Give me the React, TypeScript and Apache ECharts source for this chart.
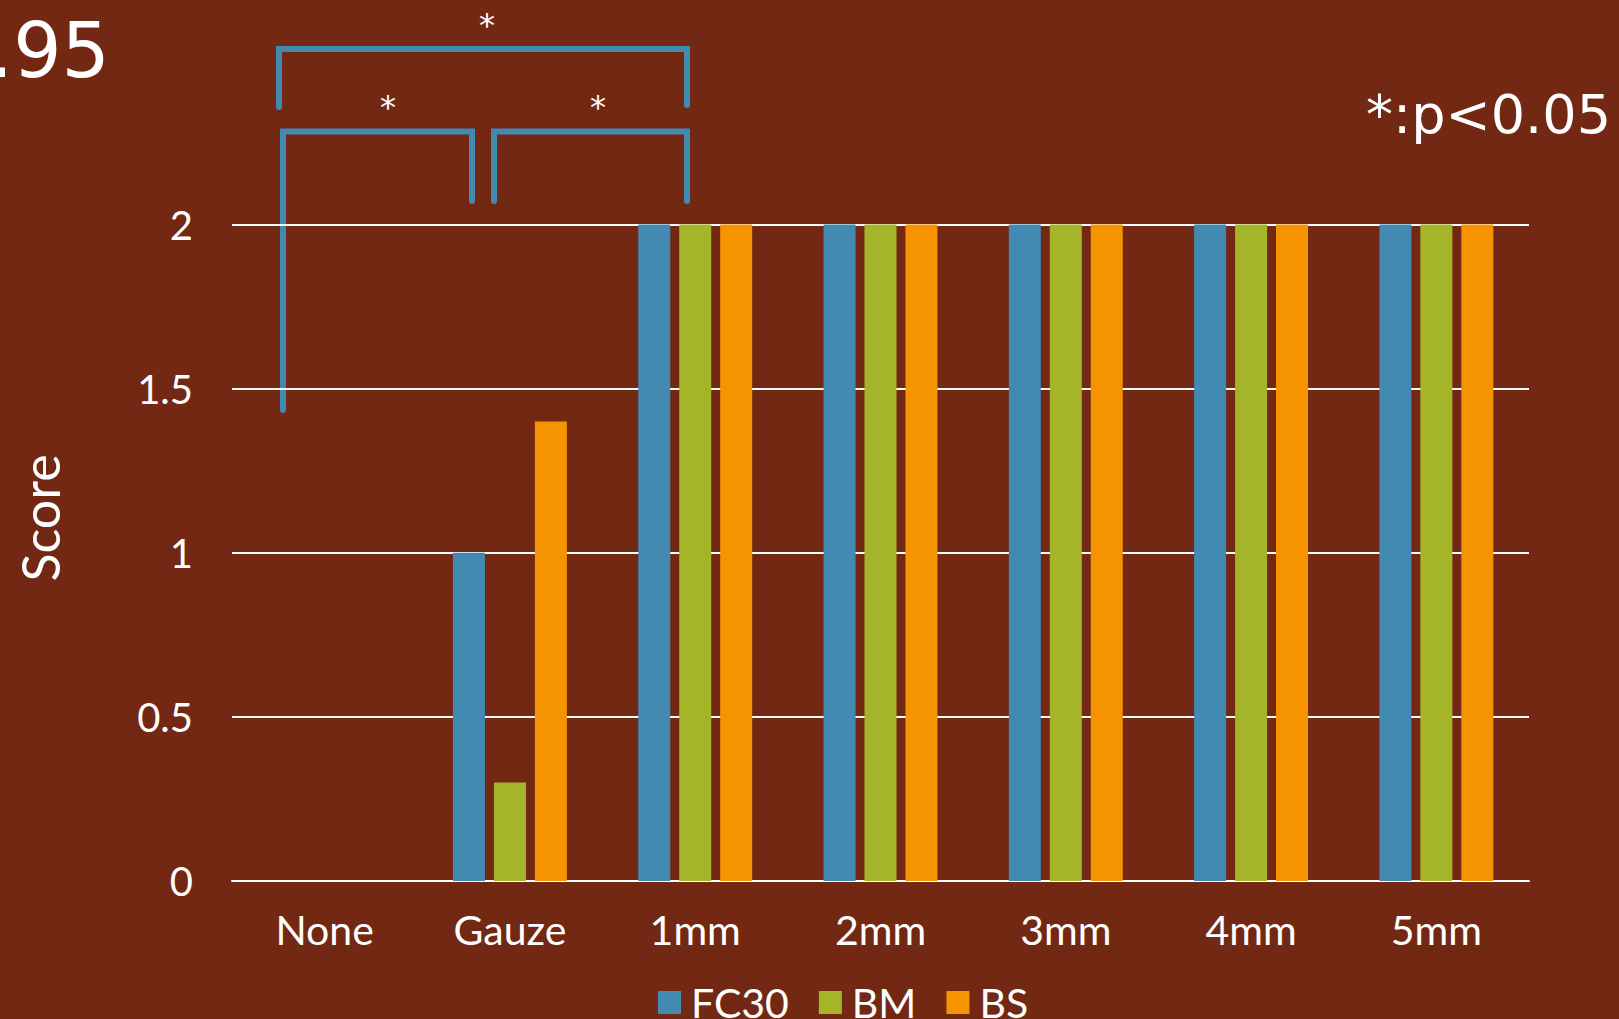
import React, { useEffect, useRef } from "react";
import * as echarts from "echarts";

const categories = ["None", "Gauze", "1mm", "2mm", "3mm", "4mm", "5mm"];
const seriesNames = ["FC30", "BM", "BS"];
const fc30 = [0, 1, 2, 2, 2, 2, 2];
const bm = [0, 0.3, 2, 2, 2, 2, 2];
const bs = [0, 1.4, 2, 2, 2, 2, 2];
const colors = ["#438AB3", "#A5B52A", "#F59300"];
const bg = "#732814";
const labelFont = "Lato, 'Noto Sans', sans-serif";

export default function App() {
  const ref = useRef<HTMLDivElement>(null);
  useEffect(() => {
    document.body.style.margin = "0";
    const chart = echarts.init(ref.current!, undefined, { renderer: "svg" });
    const bracketStyle = { stroke: colors[0], lineWidth: 6, lineCap: "round", lineJoin: "miter", fill: null };
    const star = (x: number, y: number) => ({
      type: "text",
      x,
      y,
      style: { text: "*", fill: "#ffffff", font: "32px 'DejaVu Sans'", textAlign: "center", textVerticalAlign: "middle" },
    });
    chart.setOption({
      animation: false,
      backgroundColor: bg,
      grid: { left: 232, right: 90, top: 224.5, bottom: 138 },
      legend: {
        data: seriesNames,
        left: 653,
        top: 977,
        itemWidth: 23,
        itemHeight: 23,
        itemGap: 30,
        icon: "rect",
        textStyle: { color: "#ffffff", fontSize: 41, fontFamily: labelFont, padding: [0, 0, 0, 5] },
      },
      xAxis: {
        type: "category",
        data: categories,
        axisLine: { lineStyle: { color: "#ffffff", width: 2 } },
        axisTick: { show: false },
        axisLabel: { color: "#ffffff", fontSize: 41, fontFamily: labelFont, margin: 28 },
      },
      yAxis: {
        type: "value",
        min: 0,
        max: 2,
        interval: 0.5,
        axisLine: { show: false },
        axisTick: { show: false },
        axisLabel: { color: "#ffffff", fontSize: 40, fontFamily: labelFont, margin: 39 },
        splitLine: { lineStyle: { color: "#ffffff", width: 2 } },
      },
      series: [fc30, bm, bs].map((d, i) => ({
        name: seriesNames[i],
        type: "bar",
        data: d,
        barWidth: 32,
        barGap: "28%",
        itemStyle: { color: colors[i] },
      })),
      graphic: [
        {
          type: "text",
          x: 40,
          y: 518,
          rotation: Math.PI / 2,
          style: { text: "Score", fill: "#ffffff", font: `52px ${labelFont}`, textAlign: "center", textVerticalAlign: "middle" },
        },
        {
          type: "text",
          x: -11,
          y: 50,
          style: { text: ".95", fill: "#ffffff", font: "76px 'DejaVu Sans'", textAlign: "left", textVerticalAlign: "middle" },
        },
        {
          type: "text",
          x: 1611,
          y: 114,
          style: { text: "*:p<0.05", fill: "#ffffff", font: "54px 'DejaVu Sans'", textAlign: "right", textVerticalAlign: "middle" },
        },
        { type: "polyline", shape: { points: [[279, 107], [279, 49], [687, 49], [687, 105]] }, style: bracketStyle },
        { type: "polyline", shape: { points: [[283, 410], [283, 131.5], [472, 131.5], [472, 201]] }, style: bracketStyle },
        { type: "polyline", shape: { points: [[494, 201], [494, 131.5], [687, 131.5], [687, 201]] }, style: bracketStyle },
        star(487, 25),
        star(388, 107),
        star(598, 107),
      ],
    });
    return () => chart.dispose();
  }, []);
  return <div ref={ref} style={{ width: 1619, height: 1019 }} />;
}
